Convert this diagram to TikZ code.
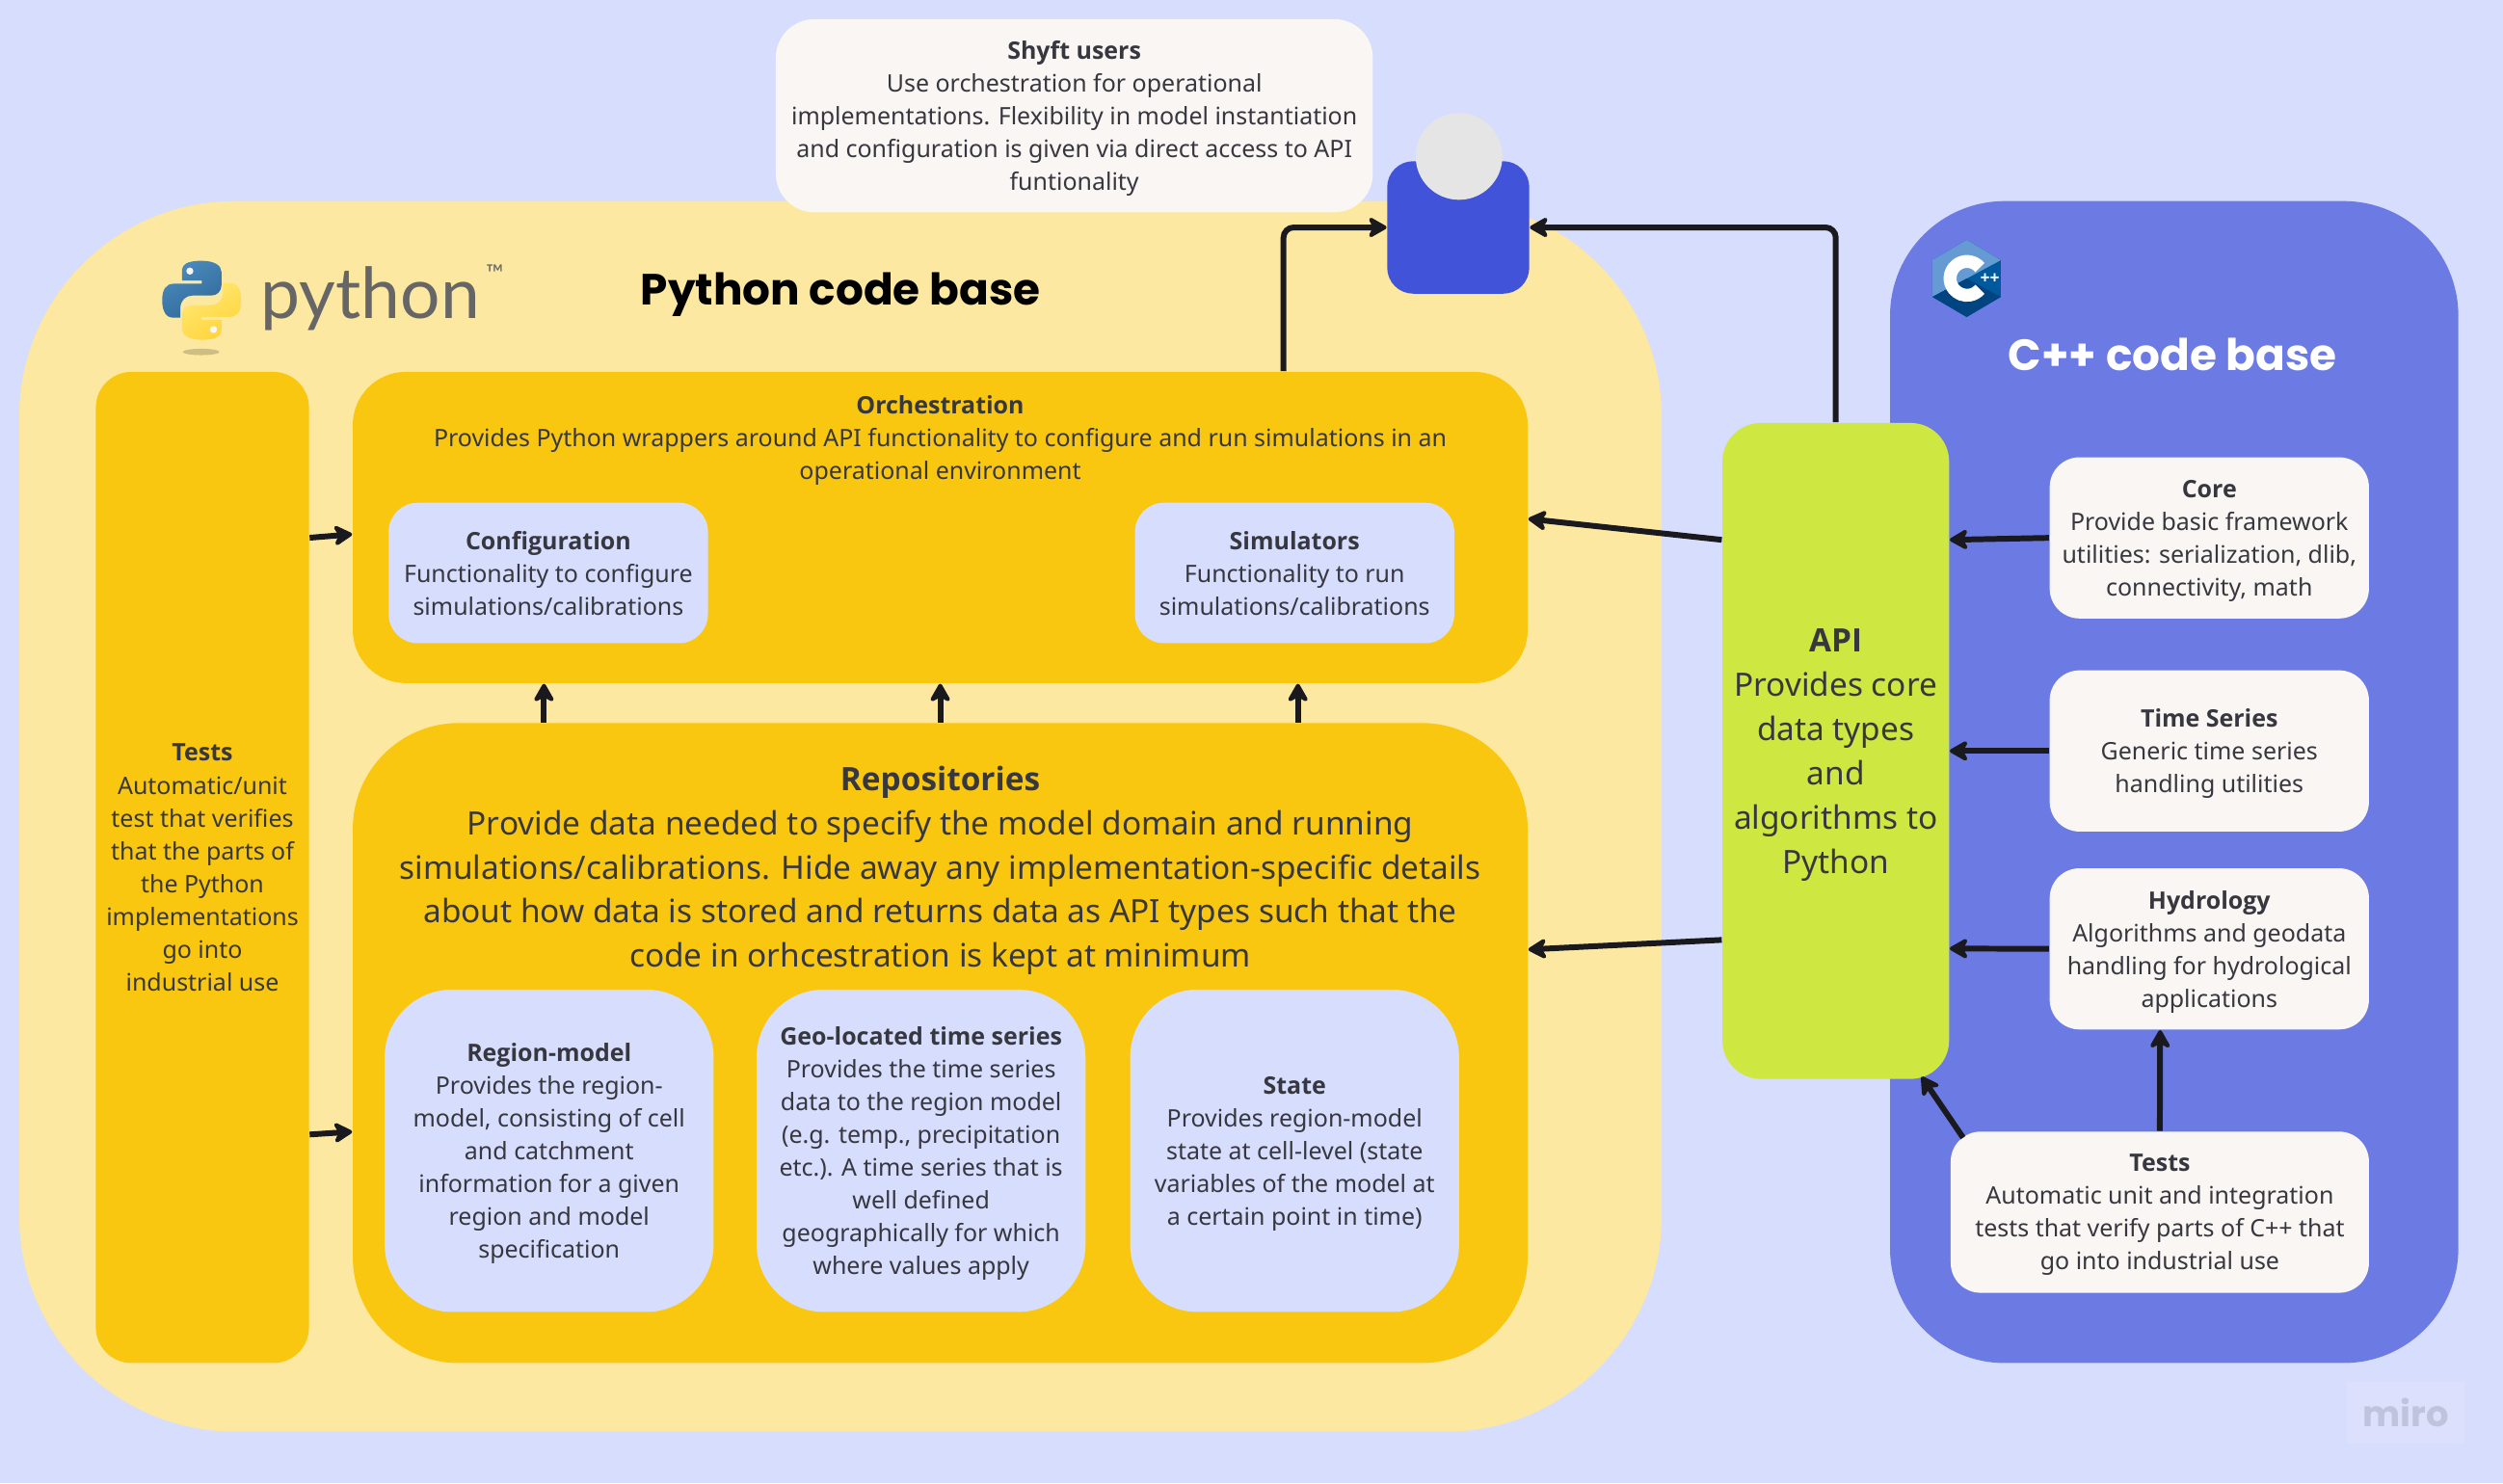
\documentclass[tikz,border=0pt]{standalone}
\usepackage{fontspec}
\setmainfont{Noto Sans}
\newfontfamily\headfont{Open Sans}
\newfontfamily\titlefont{Poppins}
\newfontfamily\logofont{Lato}
\newcommand{\heading}[1]{{\headfont\bfseries #1}}
\usetikzlibrary{arrows.meta}
\definecolor{page}{HTML}{D6DDFD}
\definecolor{sand}{HTML}{FCE8A0}
\definecolor{amber}{HTML}{FAC710}
\definecolor{indigo}{HTML}{6C7BE3}
\definecolor{royal}{HTML}{4053D9}
\definecolor{lime}{HTML}{CEE741}
\definecolor{paper}{HTML}{F9F6F4}
\definecolor{ink}{HTML}{37373F}
\definecolor{wire}{HTML}{1A1A1E}
\definecolor{pyblue}{HTML}{4B8BBE}
\definecolor{pydeep}{HTML}{306998}
\definecolor{pyyellow}{HTML}{FFE873}
\definecolor{pygold}{HTML}{FFD43B}
\definecolor{cpplight}{HTML}{659AD2}
\definecolor{cppmid}{HTML}{00599C}
\definecolor{cppdeep}{HTML}{004482}
\definecolor{miroback}{HTML}{DDE0FD}
\definecolor{miroink}{HTML}{BFC3DC}
\tikzset{size/.style 2 args={minimum width=#1*0.016563cm,minimum height=#2*0.016563cm}}
\tikzstyle{shape-node}=[draw=none,inner sep=0pt,align=center,text=ink,text depth=0pt,font=\fontsize{7.1}{9.68}\selectfont]
\tikzstyle{big-text}=[font=\fontsize{9.5}{13.06}\selectfont]
\tikzstyle{python-base}=[shape-node,fill=sand,rounded corners=2.24cm]
\tikzstyle{cpp-base}=[shape-node,fill=indigo,rounded corners=1.19cm]
\tikzstyle{amber-node}=[shape-node,fill=amber]
\tikzstyle{blue-node}=[shape-node,fill=page]
\tikzstyle{white-node}=[shape-node,fill=paper,rounded corners=0.31cm]
\tikzstyle{api-node}=[shape-node,big-text,text depth=-0.9pt,fill=lime,rounded corners=0.4cm]
\tikzstyle{title-node}=[anchor=base,inner sep=0pt,font=\titlefont\bfseries\fontsize{12.9}{16}\selectfont]
\tikzstyle{flow}=[draw=wire,line width=1.7pt,-{Stealth[length=2.3mm,width=2.6mm,inset=0.7mm,round]}]
\begin{document}
\begin{tikzpicture}[x=0.016563cm,y=-0.016563cm]
    \useasboundingbox (0,0) rectangle (1568,929.2);
    \fill[page] (0,0) rectangle (1568,929.2);

    % code bases
    \node[python-base,size={1029}{771}] at (526.5,511.5) (pythonbase) {};
    \node[cpp-base,size={356}{728}] at (1362,490) (cppbase) {};
    \node[title-node,text=black] at (526.5,191) (pythontitle) {Python code base};
    \node[title-node,text=white] at (1361,232) (cpptitle) {C++ code base};

    % python logo
    \fill[black!30!sand,opacity=0.6] (126,220.5) ellipse (11.5 and 2);
    \begin{scope}[shift={(101.6,163.4)},scale=0.495]
        \shade[left color=pyblue,right color=pydeep,shading angle=30]
            (50,0) .. controls (30,0) and (25,5) .. (25,14) -- (25,25) -- (50,25) -- (50,29) -- (15,29)
            .. controls (5,29) and (0,36) .. (0,50) .. controls (0,64) and (5,72) .. (14,72) -- (23,72) -- (23,60)
            .. controls (23,50) and (30,44) .. (38,44) -- (62,44) .. controls (70,44) and (75,38) .. (75,31) -- (75,14)
            .. controls (75,6) and (66,0) .. (50,0) -- cycle;
        \shade[left color=pyyellow,right color=pygold,shading angle=30]
            (50,100) .. controls (70,100) and (75,95) .. (75,86) -- (75,75) -- (50,75) -- (50,71) -- (85,71)
            .. controls (95,71) and (100,64) .. (100,50) .. controls (100,36) and (95,28) .. (86,28) -- (77,28) -- (77,40)
            .. controls (77,50) and (70,56) .. (62,56) -- (38,56) .. controls (30,56) and (25,62) .. (25,69) -- (25,86)
            .. controls (25,94) and (34,100) .. (50,100) -- cycle;
        \fill[paper] (35,13) circle (4.5);
        \fill[paper] (65,87) circle (4.5);
    \end{scope}
    \node[anchor=base west,inner sep=0pt,text=black!60,font=\logofont\fontsize{20.8}{24}\selectfont] at (163,199.3) (pythonword) {python};
    \node[inner sep=0pt,text=black!60,font=\logofont\fontsize{7}{8}\selectfont] at (310,171) (pythontm) {™};

    % c++ logo
    \fill[cppmid] (1232,150.3) -- (1253.4,163) -- (1253.4,186) -- (1232,198.6) -- (1210.5,186) -- (1210.5,163) -- cycle;
    \fill[cpplight] (1232,150.3) -- (1253.4,163) -- (1232,174.5) -- (1210.5,186) -- (1210.5,163) -- cycle;
    \fill[cppdeep] (1210.5,186) -- (1232,174.5) -- (1253.4,186) -- (1232,198.6) -- cycle;
    \draw[white,line width=3.8pt] (1240.3,167.6) arc[start angle=-40,end angle=-320,radius=10.6];
    \node[inner sep=0pt,text=white,font=\headfont\bfseries\fontsize{5}{5}\selectfont] at (1246.5,174.5) (cppplus) {++};

    % left part
    \node[amber-node,rounded corners=0.37cm,size={133.5}{621}] at (126.8,543.5) (tests) {\heading{Tests}\\Automatic/unit\\test that verifies\\that the parts of\\the Python\\implementations\\go into\\industrial use};
    \node[amber-node,rounded corners=0.55cm,size={736}{195}] at (589,330.5) (orch) {};
    \node[amber-node,rounded corners=1.1cm,size={736}{401}] at (589,653.5) (repo) {};
    \node[shape-node] at (589,274) (orchtext) {\heading{Orchestration}\\Provides Python wrappers around API functionality to configure and run simulations in an\\operational environment};
    \node[shape-node,big-text] at (589,543) (repotext) {\heading{Repositories}\\Provide data needed to specify the model domain and running\\simulations/calibrations. Hide away any implementation-specific details\\about how data is stored and returns data as API types such that the\\code in orhcestration is kept at minimum};
    \node[blue-node,rounded corners=0.3cm,size={200}{88}] at (343.5,359) (config) {\heading{Configuration}\\Functionality to configure\\simulations/calibrations};
    \node[blue-node,rounded corners=0.3cm,size={200}{88}] at (811,359) (simulators) {\heading{Simulators}\\Functionality to run\\simulations/calibrations};
    \node[blue-node,rounded corners=0.7cm,size={206}{202}] at (344,721) (regionmodel) {\heading{Region-model}\\Provides the region-\\model, consisting of cell\\and catchment\\information for a given\\region and model\\specification};
    \node[blue-node,rounded corners=0.7cm,size={206}{202}] at (577,721) (geoseries) {\heading{Geo-located time series}\\Provides the time series\\data to the region model\\(e.g. temp., precipitation\\etc.). A time series that is\\well defined\\geographically for which\\where values apply};
    \node[blue-node,rounded corners=0.7cm,size={206}{202}] at (811,721) (state) {\heading{State}\\Provides region-model\\state at cell-level (state\\variables of the model at\\a certain point in time)};

    % right part
    \node[api-node,size={142}{411}] at (1150,470.5) (api) {\heading{API}\\Provides core\\data types\\and\\algorithms to\\Python};
    \node[white-node,size={200}{101}] at (1384,337) (core) {\heading{Core}\\Provide basic framework\\utilities: serialization, dlib,\\connectivity, math};
    \node[white-node,size={200}{101}] at (1384,470.5) (timeseries) {\heading{Time Series}\\Generic time series\\handling utilities};
    \node[white-node,size={200}{101}] at (1384,594.5) (hydrology) {\heading{Hydrology}\\Algorithms and geodata\\handling for hydrological\\applications};
    \node[white-node,size={262}{101}] at (1353,759.5) (cpptests) {\heading{Tests}\\Automatic unit and integration\\tests that verify parts of C++ that\\go into industrial use};

    % users
    \node[white-node,rounded corners=0.4cm,size={374}{121}] at (673,72.5) (shyft) {\heading{Shyft users}\\Use orchestration for operational\\implementations. Flexibility in model instantiation\\and configuration is given via direct access to API\\funtionality};
    \node[shape-node,fill=royal,rounded corners=0.27cm,size={89}{83}] at (913.5,142.5) (user) {};
    \node[circle,fill=black!10,inner sep=0pt,minimum size=0.9cm] at (914,98) (userhead) {};

    % connectors
    \draw[flow,rounded corners=3pt] ([xshift=3.56cm]orch.north) -- ([xshift=3.56cm]orch.north |- user.west) -- (user.west);
    \draw[flow,rounded corners=3pt] (api.north) -- (api.north |- user.east) -- (user.east);
    \foreach \a in {-4.11,0,3.71}{
        \draw[flow] ([xshift=\a cm]repo.north) -- ([xshift=\a cm]orch.south);
    }
    \draw[flow] ([yshift=3.42cm]tests.east) -- ([yshift=-0.07cm]orch.west);
    \draw[flow] ([yshift=-2.77cm]tests.east) -- ([yshift=-0.92cm]repo.west);
    \draw[flow] ([yshift=2.19cm]api.west) -- ([yshift=0.09cm]orch.east);
    \draw[flow] ([yshift=-1.96cm]api.west) -- ([yshift=0.97cm]repo.east);
    \draw[flow] (core.west) -- ([yshift=2.19cm]api.east);
    \draw[flow] (timeseries.west) -- (api.east);
    \draw[flow] (hydrology.west) -- ([yshift=-2.05cm]api.east);
    \draw[flow] ([xshift=-2.04cm,yshift=-0.07cm]cpptests.north) -- ([xshift=0.89cm,yshift=0.03cm]api.south);
    \draw[flow] (cpptests.north) -- ([xshift=-0.51cm]hydrology.south);

    % watermark
    \node[fill=miroback,inner sep=0pt,text=miroink,size={74}{38.5},font=\titlefont\bfseries\fontsize{10.5}{12}\selectfont] at (1507,885.2) (miro) {miro};
\end{tikzpicture}
\end{document}
